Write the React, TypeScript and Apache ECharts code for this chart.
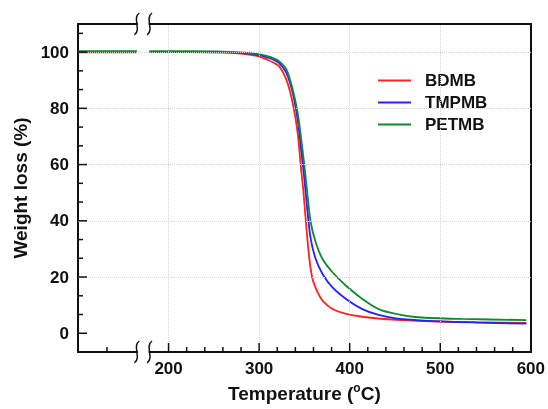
import React, { useEffect, useRef } from "react";
import * as echarts from "echarts";

const seriesNames = ["BDMB", "TMPMB", "PETMB"];
const seriesColors = ["#ff2222", "#2222ff", "#13882f"];

const bdmbTemp = [100, 130, 165, null, 179, 220, 260, 285, 300, 310, 316, 322, 330, 337, 342.5, 346, 349, 352, 355.5, 359, 364.5, 370, 381, 396, 418, 451, 506, 550, 595];
const bdmbWeight = [99.9, 99.9, 99.9, null, 100.0, 100.0, 99.8, 99.3, 98.4, 97.2, 96.2, 95.0, 90.3, 82.0, 71.4, 59.5, 50.1, 38.2, 26.4, 19.3, 14.6, 11.6, 8.6, 6.9, 5.7, 4.8, 4.1, 3.9, 3.7];

const tmpmbTemp = [100, 130, 165, null, 179, 220, 260, 285, 300, 310, 316, 322, 330, 337, 342.5, 346, 350, 353.5, 357, 362.5, 370, 381, 396, 414, 432, 451, 487, 540, 595];
const tmpmbWeight = [100.1, 100.1, 100.1, null, 100.1, 100.1, 100.0, 99.6, 98.9, 98.0, 97.3, 96.2, 92.7, 85.6, 76.1, 66.6, 54.8, 43.0, 33.5, 26.4, 21.1, 16.3, 12.2, 8.6, 6.5, 5.3, 4.4, 3.8, 3.4];

const petmbTemp = [100, 130, 165, null, 179, 220, 260, 285, 300, 310, 316, 322, 330, 337, 342.5, 346, 350, 353.5, 357, 362.5, 370, 381, 396, 414, 432, 451, 476, 524, 595];
const petmbWeight = [100.3, 100.3, 100.3, null, 100.3, 100.3, 100.2, 99.8, 99.2, 98.5, 97.8, 96.8, 93.9, 86.8, 78.5, 70.2, 59.5, 48.9, 39.4, 32.3, 26.4, 21.7, 16.9, 12.2, 8.6, 6.9, 5.7, 5.1, 4.7];

const xMajorTicks = [200, 300, 400, 500];
const xMinorTicks = [132, 220, 240, 260, 280, 320, 340, 360, 380, 420, 440, 460, 480, 520, 540, 560, 580];
const xGrid = [200, 300, 400, 500];
const yMajorTicks = [0, 20, 40, 60, 80, 100];
const yMinorTicks = [6.67, 13.33, 26.67, 33.33, 46.67, 53.33, 66.67, 73.33, 86.67, 93.33, 106.67];
const yGrid = [20, 40, 60, 80, 100];

const X_MIN = 100;
const X_MAX = 600;
const X_INTERVAL = 100;
const X_FIRST_LABEL = 200;
const Y_MIN = -20 / 3;
const Y_MAX = 110;
const Y_INTERVAL = 20 / 3;
const Y_LABEL_STEP = 20;
const BREAK_START = 165;
const BREAK_END = 179;

const FONT = "'Liberation Sans', Arial, sans-serif";
const INK = "#111";

function pairs(xs: (number | null)[], ys: (number | null)[]) {
  return xs.map((x, i) => (x === null || ys[i] === null ? [null, null] : [x, ys[i]]));
}

export default function App() {
  const ref = useRef<HTMLDivElement>(null);
  useEffect(() => {
    if (!ref.current) return;
    const chart = echarts.init(ref.current, null, { renderer: "svg" });
    const temps = [bdmbTemp, tmpmbTemp, petmbTemp];
    const weights = [bdmbWeight, tmpmbWeight, petmbWeight];
    const dataSeries = seriesNames.map((name, i) => ({
      name,
      type: "line",
      xAxisIndex: 0,
      yAxisIndex: 0,
      data: pairs(temps[i], weights[i]),
      symbol: "none",
      smooth: 0.3,
      connectNulls: false,
      z: 3,
      lineStyle: { color: seriesColors[i], width: 1.8 },
      itemStyle: { color: seriesColors[i] },
    }));
    const frameAxis = { show: true, onZero: false, lineStyle: { color: INK, width: 2 } };
    const option: any = {
      animation: false,
      textStyle: { fontFamily: FONT },
      grid: {
        left: 78,
        right: 16,
        top: 24,
        bottom: 57,
        show: false,
      },
      legend: {
        orient: "vertical",
        left: 373,
        top: 67,
        itemWidth: 33,
        itemHeight: 2,
        itemGap: 5,
        icon: "rect",
        data: seriesNames,
        textStyle: {
          fontFamily: FONT,
          fontSize: 17,
          fontWeight: "bold",
          color: INK,
          padding: [0, 0, 0, 9],
        },
      },
      xAxis: [
        {
          type: "value",
          min: X_MIN,
          max: X_MAX,
          interval: X_INTERVAL,
          position: "bottom",
          axisLine: frameAxis,
          axisTick: { show: false },
          axisLabel: {
            fontFamily: FONT,
            fontSize: 17,
            fontWeight: "bold",
            color: INK,
            margin: 8,
            formatter: (v: number) => (v >= X_FIRST_LABEL ? String(v) : ""),
          },
          splitLine: { show: false },
          name: "{a|Temperature (}{s|o}{a|C)}",
          nameLocation: "middle",
          nameGap: 27,
          nameTextStyle: {
            rich: {
              a: { fontFamily: FONT, fontSize: 19, fontWeight: "bold", color: INK, lineHeight: 24 },
              s: { fontFamily: FONT, fontSize: 12, fontWeight: "bold", color: INK, verticalAlign: "top", lineHeight: 24 },
            },
          },
        },
        {
          type: "value",
          min: X_MIN,
          max: X_MAX,
          position: "top",
          axisLine: frameAxis,
          axisTick: { show: false },
          axisLabel: { show: false },
          splitLine: { show: false },
        },
      ],
      yAxis: [
        {
          type: "value",
          min: Y_MIN,
          max: Y_MAX,
          interval: Y_INTERVAL,
          position: "left",
          axisLine: frameAxis,
          axisTick: { show: false },
          axisLabel: {
            fontFamily: FONT,
            fontSize: 17,
            fontWeight: "bold",
            color: INK,
            margin: 9,
            showMaxLabel: false,
            formatter: (v: number) => {
              const r = Math.round(v);
              return Math.abs(v - r) < 0.01 && r >= 0 && r % Y_LABEL_STEP === 0 ? String(r) : "";
            },
          },
          splitLine: { show: false },
          name: "Weight loss (%)",
          nameLocation: "middle",
          nameGap: 46,
          nameTextStyle: { fontFamily: FONT, fontSize: 19, fontWeight: "bold", color: INK },
        },
        {
          type: "value",
          min: Y_MIN,
          max: Y_MAX,
          position: "right",
          axisLine: frameAxis,
          axisTick: { show: false },
          axisLabel: { show: false },
          splitLine: { show: false },
        },
      ],
      series: [
        {
          name: "grid",
          type: "line",
          xAxisIndex: 0,
          yAxisIndex: 0,
          data: [],
          z: 1,
          silent: true,
          markLine: {
            silent: true,
            symbol: ["none", "none"],
            label: { show: false },
            lineStyle: { color: "#d6d6d6", type: "dotted", width: 1 },
            data: [...yGrid.map((v) => ({ yAxis: v })), ...xGrid.map((v) => ({ xAxis: v }))],
          },
        },
        ...dataSeries,
      ],
    };
    chart.setOption(option);

    const toPx = (x: number, y: number) => chart.convertToPixel({ xAxisIndex: 0, yAxisIndex: 0 }, [x, y]) as number[];
    const p1 = toPx(BREAK_START, Y_MIN);
    const p2 = toPx(BREAK_END, Y_MAX);
    const xa = p1[0];
    const xb = p2[0];
    const yBottom = p1[1];
    const yTop = p2[1];
    const mark = (x: number, y: number) => ({
      type: "bezierCurve",
      z: 100,
      shape: { x1: x + 2.5, y1: y - 11, cpx1: x - 5, cpy1: y - 6, cpx2: x + 5, cpy2: y + 6, x2: x - 2.5, y2: y + 11 },
      style: { stroke: INK, lineWidth: 1.5, fill: "none" },
    });
    const eraser = (y: number) => ({
      type: "rect",
      z: 99,
      shape: { x: xa + 1, y: y - 3, width: xb - xa - 2, height: 6 },
      style: { fill: "#ffffff" },
    });
    const xTick = (v: number, len: number) => {
      const p = toPx(v, Y_MIN);
      return {
        type: "line",
        z: 90,
        shape: { x1: p[0], y1: p[1], x2: p[0], y2: p[1] - len },
        style: { stroke: INK, lineWidth: 1.5 },
      };
    };
    const yTick = (v: number, len: number) => {
      const p = toPx(X_MIN, v);
      return {
        type: "line",
        z: 90,
        shape: { x1: p[0], y1: p[1], x2: p[0] + len, y2: p[1] },
        style: { stroke: INK, lineWidth: 1.5 },
      };
    };
    chart.setOption({
      graphic: [
        ...xMajorTicks.map((v) => xTick(v, 9)),
        ...xMinorTicks.map((v) => xTick(v, 5)),
        ...yMajorTicks.map((v) => yTick(v, 9)),
        ...yMinorTicks.map((v) => yTick(v, 5)),
        eraser(yBottom),
        eraser(yTop),
        mark(xa, yBottom),
        mark(xb, yBottom),
        mark(xa, yTop),
        mark(xb, yTop),
      ],
    });

    return () => chart.dispose();
  }, []);
  return <div ref={ref} style={{ position: "fixed", left: 0, top: 0, width: 548, height: 409 }} />;
}
